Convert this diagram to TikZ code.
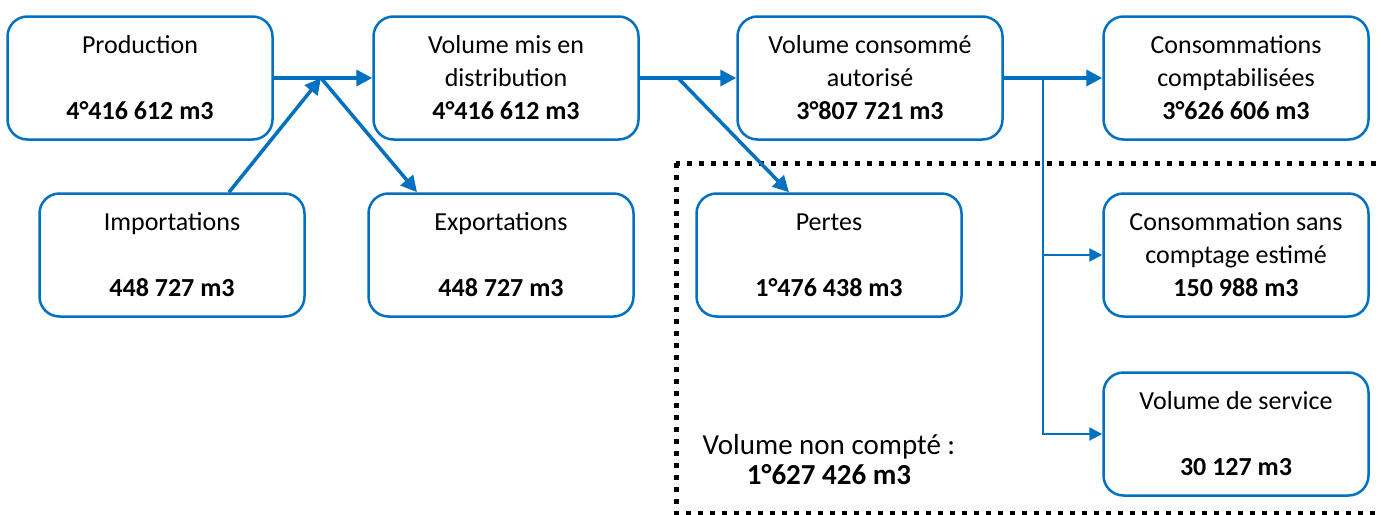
\documentclass[tikz,border=0pt]{standalone}
\usepackage{fontspec}
\setmainfont{Carlito}
\usetikzlibrary{arrows.meta}
\definecolor{bl}{HTML}{0070C0}
\begin{document}
\begin{tikzpicture}[x=1pt,y=-1pt,
  box/.style={draw=bl, line width=2.5pt, rounded corners=20pt, minimum width=265pt, minimum height=123pt, align=center, font=\fontsize{26}{33}\selectfont, inner sep=0pt},
  bigarrow/.style={draw=bl, line width=3.5pt, -{Triangle[length=16pt,width=16pt]}},
  smallarrow/.style={draw=bl, line width=2pt, -{Triangle[length=13pt,width=13pt]}},
  dotbox/.style={line width=5pt, dash pattern=on 5pt off 7pt},
  note/.style={align=center, font=\fontsize{29}{30}\selectfont, inner sep=0pt}]
\useasboundingbox (0,0) rectangle (1381,514);
\clip (0,0) rectangle (1381,514);
\fill[white] (0,0) rectangle (1381,514);

\draw[dotbox] (676,163) rectangle (1420,513);

\node[box] (prod) at (140,78) {Production\\[33pt]\textbf{4°416 612 m3}};
\node[box] (dist) at (506,78) {Volume mis en\\distribution\\\textbf{4°416 612 m3}};
\node[box] (cons) at (870,78) {Volume consommé\\autorisé\\\textbf{3°807 721 m3}};
\node[box] (compt) at (1236,78) {Consommations\\comptabilisées\\\textbf{3°626 606 m3}};
\node[box] (imp) at (172,255) {Importations\\[33pt]\textbf{448 727 m3}};
\node[box] (exp) at (501,255) {Exportations\\[33pt]\textbf{448 727 m3}};
\node[box] (pert) at (829,255) {Pertes\\[33pt]\textbf{1°476 438 m3}};
\node[box] (sans) at (1236,255) {Consommation sans\\comptage estimé\\\textbf{150 988 m3}};
\node[box] (serv) at (1236,434) {Volume de service\\[33pt]\textbf{30 127 m3}};

\node[note] (nc) at (829,460) {Volume non compté :\\\textbf{1°627 426 m3}};

\coordinate (j1) at (321,78);
\coordinate (j2) at (678,78);
\coordinate (j3) at (1043,78);

\draw[bigarrow] (prod.east) -- (dist.west);
\draw[bigarrow] ([xshift=57pt]imp.north) -- (j1);
\draw[bigarrow] (j1) -- ([xshift=-84pt]exp.north);
\draw[bigarrow] (dist.east) -- (cons.west);
\draw[bigarrow] (j2) -- ([xshift=-40pt]pert.north);
\draw[bigarrow] (cons.east) -- (compt.west);
\draw[smallarrow] (j3) |- (serv.west);
\draw[smallarrow] (j3 |- sans.west) -- (sans.west);
\end{tikzpicture}
\end{document}
